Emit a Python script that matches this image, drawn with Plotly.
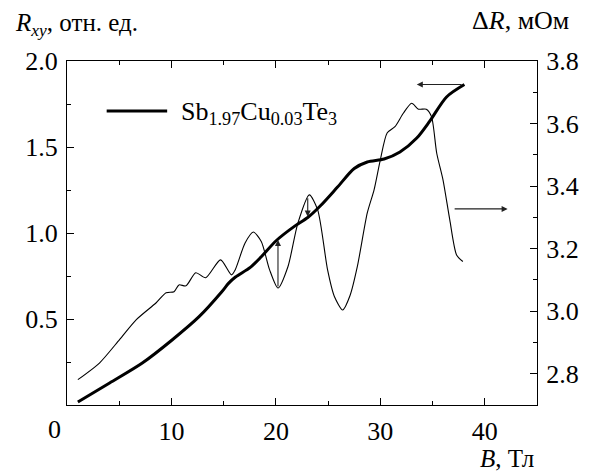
import plotly.graph_objects as go

# Thick curve: Hall resistance R_xy (left axis, arb. units)
B_thick = [1.04, 4.08, 7.21, 10.06, 12.62, 14.8, 15.46, 16.13, 17.55, 18.6, 20.02, 21.8,
           23.05, 24.29, 25.9, 27.5, 28.75, 30.36, 31.88, 33.49, 34.73, 36.34, 38.05]
R_xy = [0.017, 0.128, 0.244, 0.378, 0.512, 0.657, 0.707, 0.744, 0.800, 0.862, 0.955, 1.040,
        1.090, 1.160, 1.267, 1.375, 1.413, 1.430, 1.471, 1.552, 1.650, 1.791, 1.863]

# Thin curve: Delta R (right axis, mOhm)
B_thin = [1.04, 3.13, 5.03, 6.64, 8.54, 9.49, 10.25, 10.72, 11.39, 12.33, 13.28, 14.7,
          15.75, 16.1, 17.05, 17.84, 18.6, 19.4, 20.2, 21.16, 22.1, 23.2, 24.0, 24.95,
          25.6, 26.4, 27.1, 27.8, 28.75, 29.4, 30.0, 30.65, 31.4, 32.2, 33.0, 33.65,
          34.4, 34.9, 35.4, 36.0, 36.65, 37.3, 37.9]
dR = [2.781, 2.835, 2.909, 2.973, 3.027, 3.059, 3.062, 3.084, 3.081, 3.123, 3.107, 3.164,
      3.116, 3.132, 3.218, 3.253, 3.223, 3.132, 3.074, 3.143, 3.281, 3.372, 3.324, 3.132,
      3.047, 3.004, 3.050, 3.143, 3.314, 3.388, 3.484, 3.570, 3.590, 3.633, 3.665, 3.646,
      3.646, 3.622, 3.505, 3.420, 3.292, 3.180, 3.159]

x_ticks = [10, 20, 30, 40]
y_left_ticks = [0.5, 1.0, 1.5, 2.0]
y_right_ticks = [2.8, 3.0, 3.2, 3.4, 3.6, 3.8]

FONT = "Liberation Serif"
TICK_SIZE = 26

fig = go.Figure()
fig.add_trace(go.Scatter(x=B_thin, y=dR, mode="lines", yaxis="y2",
                         line=dict(color="black", width=1.1, shape="spline", smoothing=0.7),
                         showlegend=False))
fig.add_trace(go.Scatter(x=B_thick, y=R_xy, mode="lines", yaxis="y",
                         line=dict(color="black", width=3, shape="spline", smoothing=0.8),
                         showlegend=False))

axis_common = dict(showgrid=False, zeroline=False, showline=True, linecolor="black",
                   linewidth=1.2, ticks="inside", ticklen=7, tickwidth=1.2, tickcolor="black",
                   ticklabelstandoff=3,
                   tickfont=dict(family=FONT, size=TICK_SIZE, color="black"))

fig.update_layout(
    width=591, height=471,
    margin=dict(l=67, r=50, t=61, b=66),
    paper_bgcolor="white", plot_bgcolor="white",
    xaxis=dict(range=[0, 45], tickvals=x_ticks, mirror="ticks",
               minor=dict(tickvals=[5, 15, 25, 35], ticks="inside", ticklen=4,
                          tickcolor="black", tickwidth=1.2),
               **axis_common),
    yaxis=dict(range=[0, 2.0], tickvals=y_left_ticks, tickformat=".1f",
               minor=dict(tickvals=[0.25, 0.75, 1.25, 1.75], ticks="inside", ticklen=4,
                          tickcolor="black", tickwidth=1.2),
               **axis_common),
    yaxis2=dict(range=[2.7, 3.8], tickvals=y_right_ticks, tickformat=".1f",
                overlaying="y", side="right",
                minor=dict(tickvals=[2.9, 3.1, 3.3, 3.5, 3.7], ticks="inside", ticklen=4,
                           tickcolor="black", tickwidth=1.2),
                **axis_common),
)

txt = dict(family=FONT, size=25, color="black")
annotations = [
    dict(text="<i>R</i><sub><i>xy</i></sub>, отн. ед.", xref="paper", yref="paper",
         x=-0.114, y=1.105, xanchor="left", yanchor="middle", showarrow=False, font=txt),
    dict(text="Δ<i>R</i>, мОм", xref="paper", yref="paper",
         x=1.072, y=1.119, xanchor="right", yanchor="middle", showarrow=False,
         font=dict(family=FONT, size=26, color="black")),
    dict(text="<i>B</i>, Тл", xref="paper", yref="paper",
         x=0.998, y=-0.155, xanchor="right", yanchor="middle", showarrow=False, font=txt),
    dict(text="0", xref="paper", yref="paper", x=-0.027, y=-0.072,
         xanchor="center", yanchor="middle", showarrow=False,
         font=dict(family=FONT, size=TICK_SIZE, color="black")),
    dict(text="Sb<sub>1.97</sub>Cu<sub>0.03</sub>Te<sub>3</sub>", xref="paper", yref="paper",
         x=0.2384, y=0.85, xanchor="left", yanchor="middle", showarrow=False,
         font=dict(family=FONT, size=26, color="black")),
]
arrow = dict(showarrow=True, arrowhead=2, arrowsize=1.1, arrowwidth=1.1,
             arrowcolor="#222", xref="x", yref="y", axref="x", ayref="y", text="",
             standoff=0, startstandoff=0)
annotations += [
    dict(x=20.2, y=0.96, ax=20.2, ay=0.68, **arrow),
    dict(x=23.05, y=1.095, ax=23.05, ay=1.211, **arrow),
    dict(x=33.49, y=1.863, ax=37.92, ay=1.863, **arrow),
    dict(x=42.19, y=1.14, ax=36.97, ay=1.14, **arrow),
]
fig.update_layout(annotations=annotations)

fig.add_shape(type="line", xref="paper", yref="paper", x0=0.0844, x1=0.2131,
              y0=0.8547, y1=0.8547, line=dict(color="black", width=3))

fig.write_html("out.html")
